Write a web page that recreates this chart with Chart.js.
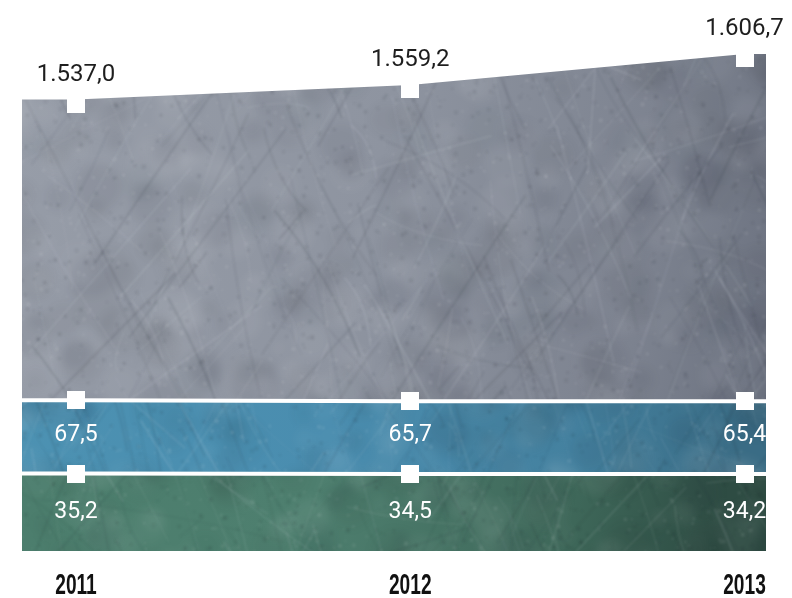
<!DOCTYPE html>
<html>
<head>
<meta charset="utf-8">
<script src="https://cdn.jsdelivr.net/npm/chart.js@4/dist/chart.umd.min.js"></script>
<style>
  html, body { margin: 0; padding: 0; background: #ffffff; }
  #chart { display: block; }
</style>
</head>
<body>
<canvas id="chart" width="792" height="598"></canvas>
<script>
// Years on the x axis
const years = [2011, 2012, 2013];
// Upper band: total value at the top edge
const totalValues = [1537.0, 1559.2, 1606.7];
// Middle (blue) band values
const midValues = [67.5, 65.7, 65.4];
// Lower (green) band values
const lowValues = [35.2, 34.5, 34.2];

const W = 792, H = 598;

// German number format: 1.537,0
function fmt(v) {
  const parts = v.toFixed(1).split('.');
  const intPart = parts[0].replace(/\B(?=(\d{3})+(?!\d))/g, '.');
  return intPart + ',' + parts[1];
}

// Hidden axis range so that anchorValue lands at anchorPx with the given pixel density
function axisRange(anchorValue, anchorPx, pxPerUnit, areaTop, areaBottom) {
  const max = anchorValue + (anchorPx - areaTop) / pxPerUnit;
  const min = max - (areaBottom - areaTop) / pxPerUnit;
  return { min, max };
}

// Deterministic pseudo random source for the scratched-metal texture
function makeRng(seed) {
  let s = seed >>> 0;
  return () => { s = (Math.imul(s, 1664525) + 1013904223) >>> 0; return s / 4294967296; };
}

function layer() {
  const c = document.createElement('canvas');
  c.width = W; c.height = H;
  return c;
}

// Scratched metal surface tinted with a horizontal gradient
function makeTexture(stops, seed) {
  const rnd = makeRng(seed);
  // soft mottling
  const cloud = layer();
  const cg = cloud.getContext('2d');
  for (let i = 0; i < 700; i++) {
    const x = rnd() * W, y = rnd() * H, r = 6 + rnd() * 18;
    cg.fillStyle = rnd() < 0.5 ? 'rgba(255,255,255,' + (0.02 + rnd() * 0.03) + ')'
                               : 'rgba(15,20,30,' + (0.025 + rnd() * 0.035) + ')';
    cg.beginPath(); cg.arc(x, y, r, 0, Math.PI * 2); cg.fill();
  }
  // fine grain
  const grain = layer();
  const gg = grain.getContext('2d');
  for (let i = 0; i < 3500; i++) {
    const x = rnd() * W, y = rnd() * H, r = 1 + rnd() * 3;
    gg.fillStyle = rnd() < 0.5 ? 'rgba(255,255,255,' + (0.04 + rnd() * 0.05) + ')'
                               : 'rgba(15,20,30,' + (0.05 + rnd() * 0.06) + ')';
    gg.fillRect(x, y, r, r);
  }
  // scratches
  const scr = layer();
  const sg = scr.getContext('2d');
  for (let i = 0; i < 300; i++) {
    const x = rnd() * W, y = rnd() * H;
    const pick = rnd();
    let ang;
    if (pick < 0.45) ang = (55 + rnd() * 25) * Math.PI / 180;
    else if (pick < 0.8) ang = (-45 - rnd() * 25) * Math.PI / 180;
    else ang = (rnd() * 180 - 90) * Math.PI / 180;
    const len = 30 + rnd() * 240;
    const x2 = x + Math.cos(ang) * len, y2 = y + Math.sin(ang) * len;
    const bend = (rnd() - 0.5) * 24;
    sg.strokeStyle = rnd() < 0.5 ? 'rgba(235,240,248,' + (0.05 + rnd() * 0.08) + ')'
                                 : 'rgba(25,30,40,' + (0.05 + rnd() * 0.08) + ')';
    sg.lineWidth = 0.8 + rnd() * 1.2;
    sg.beginPath();
    sg.moveTo(x, y);
    sg.quadraticCurveTo((x + x2) / 2 + bend, (y + y2) / 2 - bend, x2, y2);
    sg.stroke();
  }
  const c = layer();
  const g = c.getContext('2d');
  const grad = g.createLinearGradient(0, 0, W, H * 0.25);
  stops.forEach(([o, col]) => grad.addColorStop(o, col));
  g.fillStyle = grad;
  g.fillRect(0, 0, W, H);
  g.filter = 'blur(4px)';
  g.drawImage(cloud, 0, 0);
  g.filter = 'blur(1px)';
  g.drawImage(grain, 0, 0);
  g.filter = 'blur(0.8px)';
  g.drawImage(scr, 0, 0);
  g.filter = 'none';
  return c;
}

const grayTex = makeTexture([[0, '#989ea9'], [0.5, '#8e94a0'], [0.85, '#7c828f'], [1, '#6e7482']], 11);
const blueTex = makeTexture([[0, '#4d93b3'], [0.5, '#4a8daf'], [0.8, '#44819f'], [1, '#3a6c85']], 23);
const greenTex = makeTexture([[0, '#4b7d6c'], [0.5, '#4e7f6f'], [0.82, '#3e6759'], [1, '#2e4c43']], 37);

// Marker images: squares, the top one taller so it hangs into the band
function makeMarker(w, h) {
  const c = document.createElement('canvas');
  c.width = w; c.height = h;
  const g = c.getContext('2d');
  g.fillStyle = '#ffffff';
  g.fillRect(0, 0, w, h);
  return c;
}
const topMarker = makeMarker(18, 26);
const bandMarker = makeMarker(18, 18);

function bandPath(ctx, a, xs, upper, lower) {
  const n = xs.length;
  ctx.beginPath();
  ctx.moveTo(a.left, upper[0]);
  for (let i = 0; i < n; i++) ctx.lineTo(xs[i], upper[i]);
  ctx.lineTo(a.right, upper[n - 1]);
  ctx.lineTo(a.right, lower[n - 1]);
  for (let i = n - 1; i >= 0; i--) ctx.lineTo(xs[i], lower[i]);
  ctx.lineTo(a.left, lower[0]);
  ctx.closePath();
}

const bandsPlugin = {
  id: 'bands',
  beforeDatasetsDraw(chart) {
    const { ctx, chartArea: a, scales } = chart;
    const xs = years.map(v => scales.x.getPixelForValue(v));
    const top = totalValues.map(v => scales.yTotal.getPixelForValue(v));
    const mid = midValues.map(v => scales.yMid.getPixelForValue(v));
    const low = lowValues.map(v => scales.yLow.getPixelForValue(v));
    const bottom = years.map(() => a.bottom);
    [[top, mid, grayTex], [mid, low, blueTex], [low, bottom, greenTex]].forEach(([u, l, tex]) => {
      ctx.save();
      bandPath(ctx, a, xs, u, l);
      ctx.clip();
      ctx.drawImage(tex, 0, 0);
      ctx.restore();
    });
    // white separators continue to the band edges
    const n = xs.length;
    ctx.save();
    ctx.strokeStyle = '#ffffff';
    ctx.lineWidth = 4;
    [mid, low].forEach(ys => {
      ctx.beginPath();
      ctx.moveTo(a.left, ys[0]);
      ctx.lineTo(xs[0], ys[0]);
      ctx.moveTo(xs[n - 1], ys[n - 1]);
      ctx.lineTo(a.right, ys[n - 1]);
      ctx.stroke();
    });
    ctx.restore();
  },
  afterDatasetsDraw(chart) {
    const { ctx, chartArea: a, scales } = chart;
    ctx.save();
    ctx.textAlign = 'center';
    years.forEach((yr, i) => {
      const x = scales.x.getPixelForValue(yr);
      const yT = scales.yTotal.getPixelForValue(totalValues[i]);
      const yM = scales.yMid.getPixelForValue(midValues[i]);
      const yL = scales.yLow.getPixelForValue(lowValues[i]);
      ctx.font = '24px Roboto, "Noto Sans", sans-serif';
      ctx.fillStyle = '#1e1e1e';
      ctx.textBaseline = 'alphabetic';
      ctx.fillText(fmt(totalValues[i]), x, yT - 19);
      ctx.font = '23px Roboto, "Noto Sans", sans-serif';
      ctx.fillStyle = '#ffffff';
      ctx.textBaseline = 'middle';
      ctx.fillText(fmt(midValues[i]), x, (yM + yL) / 2 - 2);
      ctx.fillText(fmt(lowValues[i]), x, (yL + a.bottom) / 2);
    });
    ctx.restore();
  },
  afterDraw(chart) {
    // condensed bold year labels under the tick positions
    const { ctx, scales } = chart;
    const xs = scales.x;
    ctx.save();
    ctx.fillStyle = '#111111';
    ctx.font = 'bold 29px "Liberation Sans", Arimo, sans-serif';
    ctx.textAlign = 'center';
    ctx.textBaseline = 'alphabetic';
    xs.ticks.forEach(t => {
      const x = xs.getPixelForValue(t.value);
      ctx.save();
      ctx.translate(x, 594);
      ctx.scale(0.66, 1);
      ctx.fillText(String(t.value), 0, 0);
      ctx.restore();
    });
    ctx.restore();
  }
};

// Chart area spans y 0..551 on the page
const AREA_TOP = 0, AREA_BOTTOM = 551;
const totalRange = axisRange(totalValues[0], 99.5, 0.653, AREA_TOP, AREA_BOTTOM);
const midRange = axisRange(midValues[0], 400.3, 0.5, AREA_TOP, AREA_BOTTOM);
const lowRange = axisRange(lowValues[0], 473.6, 0.5, AREA_TOP, AREA_BOTTOM);

const toPoints = vals => years.map((yr, i) => ({ x: yr, y: vals[i] }));

new Chart(document.getElementById('chart'), {
  type: 'line',
  data: {
    datasets: [
      {
        label: 'Gesamt',
        data: toPoints(totalValues),
        yAxisID: 'yTotal',
        showLine: false,
        pointStyle: topMarker,
        pointRadius: 9,
        pointBorderWidth: 0
      },
      {
        label: 'Mitte',
        data: toPoints(midValues),
        yAxisID: 'yMid',
        borderColor: '#ffffff',
        borderWidth: 4,
        tension: 0,
        pointStyle: bandMarker,
        pointRadius: 9,
        pointBorderWidth: 0
      },
      {
        label: 'Unten',
        data: toPoints(lowValues),
        yAxisID: 'yLow',
        borderColor: '#ffffff',
        borderWidth: 4,
        tension: 0,
        pointStyle: bandMarker,
        pointRadius: 9,
        pointBorderWidth: 0
      }
    ]
  },
  options: {
    responsive: false,
    animation: false,
    layout: { autoPadding: false, padding: { left: 22, right: 26, top: AREA_TOP, bottom: 0 } },
    plugins: { legend: { display: false }, tooltip: { enabled: false } },
    scales: {
      x: {
        type: 'linear',
        min: years[0] - 54 / 334.25,
        max: years[years.length - 1] + 21.5 / 334.25,
        grid: { display: false, drawTicks: false },
        border: { display: false },
        afterBuildTicks: scale => { scale.ticks = years.map(v => ({ value: v })); },
        afterFit: scale => {
          scale.height = H - AREA_BOTTOM;
          scale.paddingLeft = 0;
          scale.paddingRight = 0;
        },
        ticks: { display: false }
      },
      yTotal: { display: false, min: totalRange.min, max: totalRange.max },
      yMid: { display: false, min: midRange.min, max: midRange.max },
      yLow: { display: false, min: lowRange.min, max: lowRange.max }
    }
  },
  plugins: [bandsPlugin]
});
</script>
</body>
</html>
